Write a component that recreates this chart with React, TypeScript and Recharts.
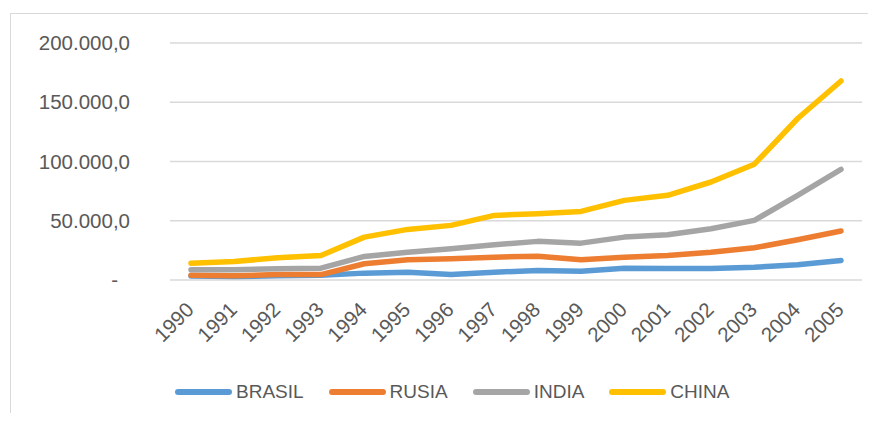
import { LineChart, Line, XAxis, YAxis, CartesianGrid, Legend } from "recharts";

const YEARS = ["1990", "1991", "1992", "1993", "1994", "1995", "1996", "1997", "1998", "1999", "2000", "2001", "2002", "2003", "2004", "2005"];
const BRASIL = [3300, 3000, 3500, 4000, 5800, 6600, 4600, 6600, 8000, 7400, 10000, 9700, 9700, 10800, 12800, 16500];
const RUSIA = [4100, 3500, 4600, 4600, 13700, 17100, 17900, 19300, 20100, 17100, 19300, 20700, 23500, 27200, 34000, 41300];
const INDIA = [8600, 8600, 9500, 10000, 19900, 23500, 26400, 29800, 32600, 31100, 36200, 38200, 43300, 50300, 71500, 93400];
const CHINA = [14200, 15600, 18800, 20700, 36200, 42700, 46100, 54500, 56000, 57900, 67200, 71500, 82700, 97700, 136300, 167900];
const Y_TICKS = [0, 50000, 100000, 150000, 200000];

const SERIES = [
  { key: "BRASIL", color: "#5B9BD5" },
  { key: "RUSIA", color: "#ED7D31" },
  { key: "INDIA", color: "#A5A5A5" },
  { key: "CHINA", color: "#FFC000" },
];

const data = YEARS.map((year, i) => ({
  year,
  BRASIL: BRASIL[i],
  RUSIA: RUSIA[i],
  INDIA: INDIA[i],
  CHINA: CHINA[i],
}));

const TEXT = "#595959";
const FONT = "'Liberation Sans', Arial, sans-serif";

function fmt(v: number) {
  if (v === 0) return "-";
  return String(v).replace(/\B(?=(\d{3})+(?!\d))/g, ".") + ",0";
}

function YTick(props: any) {
  const { x, y, payload } = props;
  const zero = payload.value === 0;
  return (
    <text
      x={zero ? x - 12 : x}
      y={y}
      dy={7}
      textAnchor="end"
      fill={TEXT}
      fontSize={20.5}
      fontFamily={FONT}>
      {fmt(payload.value)}
    </text>
  );
}

function XTick(props: any) {
  const { x, y, payload } = props;
  const ax = x + 4;
  const ay = y + 23;
  return (
    <text
      x={ax}
      y={ay}
      textAnchor="end"
      fill={TEXT}
      fontSize={20.5}
      fontFamily={FONT}
      transform={`rotate(-45, ${ax}, ${ay})`}>
      {payload.value}
    </text>
  );
}

// legend keeps the series order (Recharts would sort it by name)
function LegendContent() {
  return (
    <div style={{ display: "flex", alignItems: "center", height: 40 }}>
      {SERIES.map((s) => (
        <div key={s.key} style={{ display: "flex", alignItems: "center", marginRight: 25 }}>
          <span
            style={{
              display: "inline-block",
              width: 57,
              height: 6,
              borderRadius: 3,
              background: s.color,
              marginRight: 4,
            }}
          />
          <span style={{ fontFamily: FONT, fontSize: 19, color: TEXT, lineHeight: "40px" }}>
            {s.key}
          </span>
        </div>
      ))}
    </div>
  );
}

export default function App() {
  return (
    <div style={{ position: "relative", margin: -8, width: 876, height: 421, background: "#fff", overflow: "hidden" }}>
      <div
        style={{
          position: "absolute",
          left: 10,
          top: 13,
          width: 900,
          height: 450,
          borderTop: "1.5px solid #D9D9D9",
          borderLeft: "1.5px solid #D9D9D9",
        }}
      />
      <div style={{ position: "absolute", left: 0, top: 0 }}>
        <LineChart
          width={876}
          height={421}
          data={data}
          margin={{ top: 43, right: 14, bottom: 0, left: 0 }}>
          <CartesianGrid vertical={false} stroke="#D9D9D9" strokeWidth={1.5} />
          <XAxis
            dataKey="year"
            interval={0}
            height={101}
            padding={{ left: 21, right: 21 }}
            axisLine={false}
            tickLine={false}
            tick={<XTick />}
          />
          <YAxis
            width={170}
            domain={[0, 200000]}
            ticks={Y_TICKS}
            axisLine={false}
            tickLine={false}
            tickSize={0}
            tickMargin={40}
            tick={<YTick />}
          />
          <Legend
            verticalAlign="bottom"
            height={40}
            content={<LegendContent />}
            wrapperStyle={{ left: 175, top: 372, width: "auto", bottom: "auto" }}
          />
          {SERIES.map((s) => (
            <Line
              key={s.key}
              type="linear"
              dataKey={s.key}
              name={s.key}
              stroke={s.color}
              strokeWidth={5.5}
              strokeLinecap="round"
              strokeLinejoin="round"
              dot={false}
              activeDot={false}
              isAnimationActive={false}
            />
          ))}
        </LineChart>
      </div>
    </div>
  );
}
